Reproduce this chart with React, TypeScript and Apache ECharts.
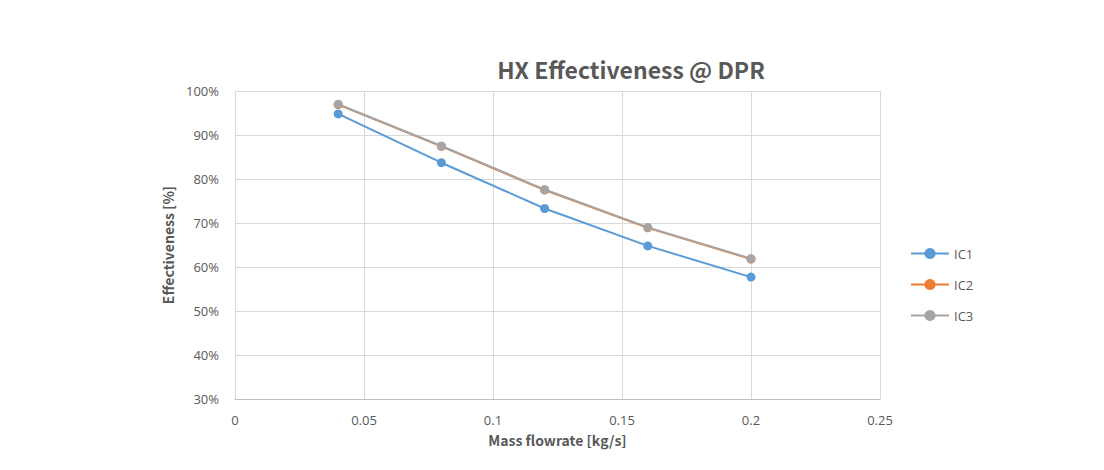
import React, { useEffect, useRef } from "react";
import * as echarts from "echarts";

const title = "HX Effectiveness @ DPR";
const xName = "Mass flowrate [kg/s]";
const yName = "Effectiveness [%]";
const massFlow = [0.04, 0.08, 0.12, 0.16, 0.2];
const ic1 = [94.8, 83.7, 73.3, 64.8, 57.7];
const ic2 = [96.9, 87.4, 77.5, 68.9, 61.8];
const ic3 = [97.0, 87.5, 77.6, 69.0, 61.9];
const seriesNames = ["IC1", "IC2", "IC3"];
const colors = ["#5B9BD5", "#ED7D31", "#A5A5A5"];

export default function App() {
  const ref = useRef<HTMLDivElement>(null);
  useEffect(() => {
    if (!ref.current) return;
    const chart = echarts.init(ref.current, null, { renderer: "svg" });
    const font = "'Open Sans', 'Noto Sans', sans-serif";
    const values = [ic1, ic2, ic3];
    chart.setOption({
      animation: false,
      backgroundColor: "#ffffff",
      title: {
        text: title,
        left: 626,
        top: 52,
        textAlign: "center",
        textStyle: { fontFamily: "'Noto Sans CJK KR', 'Noto Sans', sans-serif", fontSize: 23, fontWeight: "bold", color: "#595959" },
      },
      grid: { left: 235, right: 224, top: 91, bottom: 71 },
      legend: {
        orient: "vertical",
        left: 910,
        top: 247,
        padding: 0,
        itemGap: 18,
        itemWidth: 38,
        itemHeight: 14,
        textStyle: { fontFamily: font, fontSize: 13, color: "#595959" },
        data: seriesNames,
      },
      xAxis: {
        type: "value",
        min: 0,
        max: 0.25,
        interval: 0.05,
        name: xName,
        nameLocation: "middle",
        nameGap: 34,
        nameTextStyle: { fontFamily: "'Noto Sans CJK KR', sans-serif", fontSize: 14, fontWeight: "bold", color: "#595959" },
        axisLine: { show: true, lineStyle: { color: "#BFBFBF" } },
        axisTick: { show: false },
        splitLine: { show: true, lineStyle: { color: "#D9D9D9" } },
        axisLabel: {
          fontFamily: font,
          fontSize: 13,
          color: "#595959",
          margin: 14,
          formatter: (v: number) => String(parseFloat(v.toFixed(2))),
        },
      },
      yAxis: {
        type: "value",
        min: 30,
        max: 100,
        interval: 10,
        name: yName,
        nameLocation: "middle",
        nameGap: 60,
        nameTextStyle: { fontFamily: "'Noto Sans CJK KR', sans-serif", fontSize: 14, fontWeight: "bold", color: "#595959" },
        axisLine: { show: false },
        axisTick: { show: false },
        splitLine: { show: true, lineStyle: { color: "#D9D9D9" } },
        axisLabel: { fontFamily: font, fontSize: 13, color: "#595959", margin: 16, formatter: "{value}%" },
      },
      series: seriesNames.map((name, i) => ({
        name,
        type: "line",
        data: massFlow.map((x, j) => [x, values[i][j]]),
        symbol: "circle",
        symbolSize: 9,
        itemStyle: { color: colors[i] },
        lineStyle: { color: colors[i], width: 2 },
      })),
    });
    return () => chart.dispose();
  }, []);
  return <div ref={ref} style={{ position: "fixed", left: 0, top: 0, width: 1104, height: 470 }} />;
}
